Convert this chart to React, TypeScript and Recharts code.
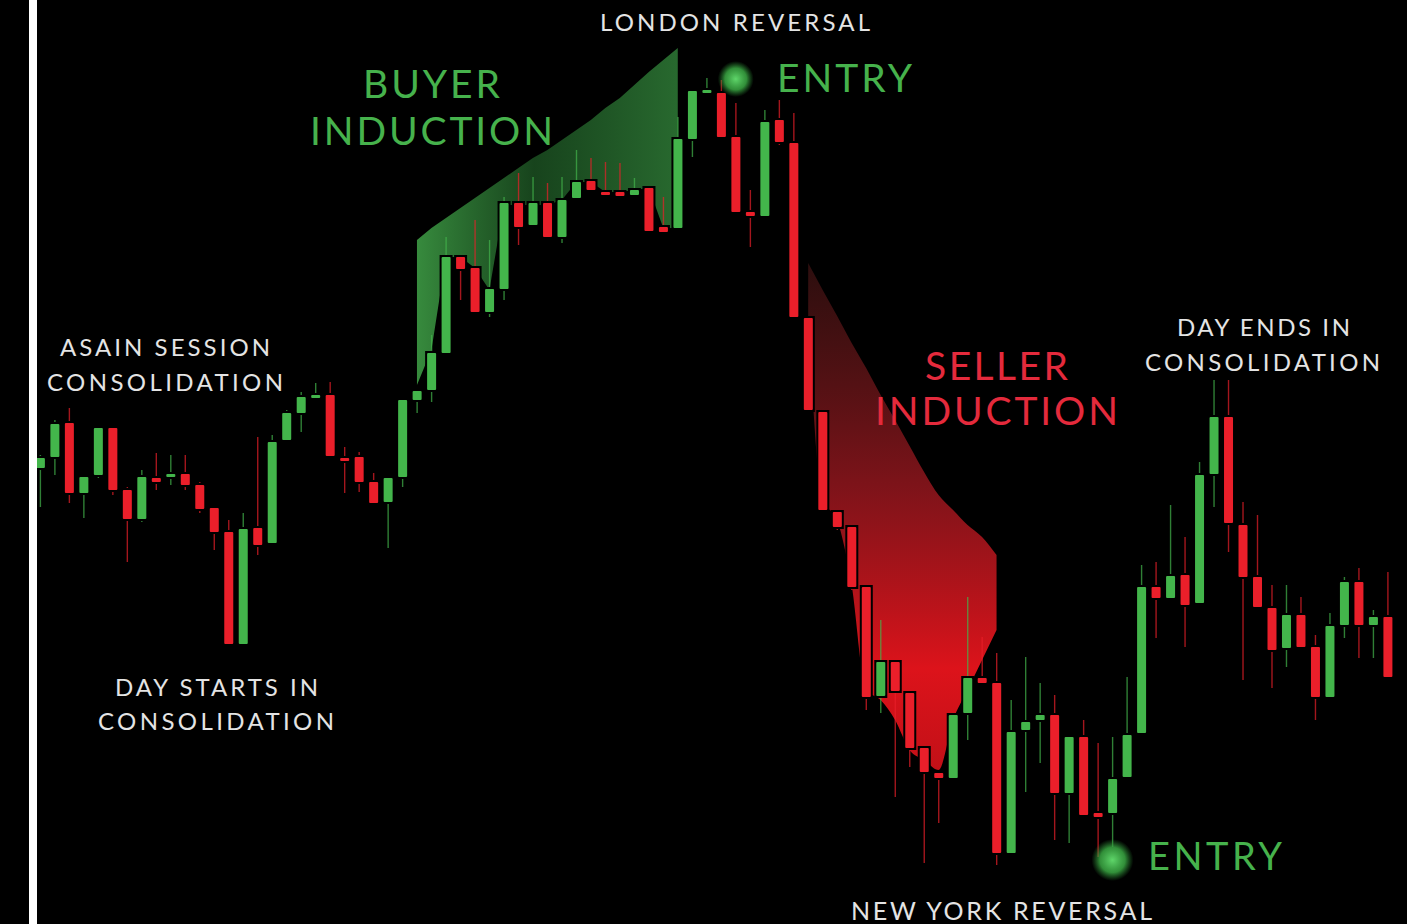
import { ComposedChart, Bar, Area, XAxis, YAxis, ReferenceDot } from "recharts";

// candle prices (arbitrary price units)
const open = [
  456, 467, 501, 431, 449, 496, 434, 405, 446, 447, 450, 439, 416, 392, 280, 396, 381, 484, 511, 527,
  529, 466, 467, 442, 422, 447, 524, 534, 571, 667, 656, 612, 635, 721, 699, 721, 687, 726, 743, 732,
  732, 729, 736, 697, 696, 785, 832, 831, 787, 712, 708, 804, 781, 606, 512, 412, 397, 337, 228, 262,
  231, 176, 151, 146, 211, 246, 241, 71, 194, 204, 209, 131, 187, 111, 111, 147, 191, 337, 326, 349,
  321, 450, 507, 399, 347, 316, 276, 309, 277, 227, 299, 342, 299, 307,
];
const close = [
  466, 500, 431, 447, 496, 434, 405, 447, 442, 450, 439, 415, 392, 280, 395, 379, 482, 511, 527, 529,
  468, 464, 442, 421, 446, 524, 533, 571, 667, 655, 612, 635, 721, 697, 721, 687, 724, 742, 734, 729,
  728, 734, 693, 692, 785, 833, 834, 787, 712, 708, 802, 782, 607, 514, 414, 397, 337, 227, 262, 233,
  176, 152, 146, 209, 246, 241, 71, 192, 202, 209, 131, 187, 109, 107, 145, 189, 337, 326, 348, 319,
  449, 507, 401, 347, 317, 274, 309, 277, 227, 298, 342, 299, 307, 247,
];
const high = [
  469, 504, 516, 449, 498, 498, 437, 454, 471, 469, 469, 442, 418, 404, 411, 487, 489, 514, 532, 541,
  542, 477, 472, 451, 448, 526, 535, 589, 687, 669, 704, 684, 727, 751, 747, 741, 747, 774, 766, 762,
  761, 746, 738, 727, 807, 835, 846, 844, 821, 734, 814, 824, 811, 608, 514, 414, 399, 339, 304, 264,
  233, 178, 153, 211, 327, 287, 271, 224, 267, 241, 229, 189, 204, 181, 187, 247, 359, 362, 419, 387,
  462, 544, 544, 422, 409, 339, 339, 327, 289, 311, 347, 356, 314, 352,
];
const low = [
  417, 449, 421, 406, 446, 429, 362, 402, 434, 439, 434, 411, 374, 278, 278, 369, 379, 482, 492, 526,
  466, 431, 432, 419, 376, 437, 511, 522, 569, 624, 610, 607, 624, 679, 697, 685, 681, 724, 732, 727,
  726, 727, 691, 690, 694, 767, 830, 785, 710, 677, 706, 779, 605, 512, 412, 394, 334, 214, 211, 127,
  157, 61, 101, 144, 184, 239, 59, 69, 132, 161, 84, 81, 107, 67, 77, 145, 189, 286, 324, 277,
  319, 417, 372, 244, 315, 236, 257, 275, 204, 225, 286, 266, 266, 245,
];

// shaded "induction" bands
const buyerStart = 26;
const buyerTop = [684, 696, 706, 716, 726, 736, 746, 756, 766, 774, 784, 794, 804, 816, 826, 839, 852, 864, 876];
const buyerBottom = [539, 574, 667, 667, 656, 634, 719, 719, 719, 719, 724, 742, 742, 732, 732, 734, 736, 696, 696];
const sellerStart = 53;
const sellerTop = [661, 634, 608, 581, 556, 529, 504, 478, 452, 429, 414, 399, 387, 369];
const sellerBottom = [606, 424, 404, 339, 234, 224, 204, 174, 164, 154, 204, 234, 264, 294];

const entryIndex = [48, 74];
const entryPrice = [845, 64];

const GREEN = "#43b54b";
const RED = "#ea1f2a";

const data = open.map((o, i) => {
  const b = i - buyerStart;
  const s = i - sellerStart;
  return {
    i,
    open: o,
    close: close[i],
    high: high[i],
    low: low[i],
    buyer: b >= 0 && b < buyerTop.length ? [buyerBottom[b], buyerTop[b]] : null,
    seller: s >= 0 && s < sellerTop.length ? [sellerBottom[s], sellerTop[s]] : null,
  };
});

function Candle(props: any) {
  const { x, y, width, height, payload } = props;
  if (!payload || !height) return null;
  const { open: o, close: c, high: h, low: l } = payload;
  const color = c >= o ? GREEN : RED;
  const k = height / (h - l);
  const top = y + (h - Math.max(o, c)) * k;
  const bh = Math.max((Math.max(o, c) - Math.min(o, c)) * k, 3);
  const cx = x + width / 2;
  return (
    <g>
      <line x1={cx} x2={cx} y1={y} y2={y + height} stroke={color} strokeWidth={1.4} strokeOpacity={0.7} />
      <rect x={x - 2} y={top - 2} width={width + 4} height={bh + 4} fill="#000" />
      <rect x={x} y={top} width={width} height={bh} fill={color} rx={1} />
    </g>
  );
}

function Note({ x, y, w, size, color, children }: any) {
  return (
    <text x={x} y={y} textLength={w} lengthAdjust="spacing" fontSize={size} fill={color}
      fontFamily="Lato, 'Open Sans', sans-serif">
      {children}
    </text>
  );
}

export default function App() {
  const white = "#e4e4e4";
  const green = "#46b24c";
  const red = "#e42a3c";
  return (
    <div style={{ position: "fixed", left: 0, top: 0, width: 1407, height: 924, background: "#000", overflow: "hidden" }}>
      <div style={{ position: "absolute", left: 0, top: 0 }}>
        <ComposedChart width={1407} height={924} data={data} barCategoryGap="20%"
          margin={{ top: 0, right: 12, bottom: 0, left: 33 }}>
          <defs>
            <linearGradient id="buyGrad" x1="0" y1="0" x2="1" y2="0">
              <stop offset="0%" stopColor="#3d9a44" stopOpacity={0.9} />
              <stop offset="45%" stopColor="#1f5a26" stopOpacity={0.75} />
              <stop offset="100%" stopColor="#2f7c37" stopOpacity={0.85} />
            </linearGradient>
            <linearGradient id="sellGrad" x1="0" y1="0" x2="0" y2="1">
              <stop offset="0%" stopColor="#5a1c1c" stopOpacity={0.5} />
              <stop offset="45%" stopColor="#a01820" stopOpacity={0.8} />
              <stop offset="80%" stopColor="#e8141c" stopOpacity={0.95} />
              <stop offset="100%" stopColor="#d8121a" stopOpacity={0.9} />
            </linearGradient>
            <radialGradient id="glow">
              <stop offset="0%" stopColor="#5fd66a" stopOpacity={1} />
              <stop offset="60%" stopColor="#3aa843" stopOpacity={0.85} />
              <stop offset="100%" stopColor="#2a8a33" stopOpacity={0} />
            </radialGradient>
          </defs>
          <XAxis dataKey="i" hide />
          <YAxis hide domain={[0, 924]} />
          <Area dataKey="buyer" type="linear" stroke="none" fill="url(#buyGrad)" fillOpacity={1}
            isAnimationActive={false} dot={false} activeDot={false} />
          <Area dataKey="seller" type="monotone" stroke="none" fill="url(#sellGrad)" fillOpacity={1}
            isAnimationActive={false} dot={false} activeDot={false} />
          <Bar dataKey={(d: any) => [d.low, d.high]} shape={<Candle />} isAnimationActive={false} />
          {entryIndex.map((ix, k) => (
            <ReferenceDot key={ix} x={ix} y={entryPrice[k]} r={k === 0 ? 18 : 21} fill="url(#glow)" stroke="none" />
          ))}
        </ComposedChart>
      </div>
      <div style={{ position: "absolute", left: 29, top: 0, width: 8, height: 924, background: "#fff" }} />
      <svg width={1407} height={924} style={{ position: "absolute", left: 0, top: 0, pointerEvents: "none" }}>
        <Note x={600} y={31} w={270} size={24} color={white}>LONDON REVERSAL</Note>
        <Note x={363} y={98} w={137} size={39} color={green}>BUYER</Note>
        <Note x={310} y={145} w={243} size={39} color={green}>INDUCTION</Note>
        <Note x={777} y={92} w={135} size={39} color={green}>ENTRY</Note>
        <Note x={60} y={356} w={210} size={24} color={white}>ASAIN SESSION</Note>
        <Note x={47} y={391} w={236} size={24} color={white}>CONSOLIDATION</Note>
        <Note x={115} y={696} w={203} size={24} color={white}>DAY STARTS IN</Note>
        <Note x={98} y={730} w={236} size={24} color={white}>CONSOLIDATION</Note>
        <Note x={925} y={380} w={143} size={39} color={red}>SELLER</Note>
        <Note x={875} y={425} w={243} size={39} color={red}>INDUCTION</Note>
        <Note x={1177} y={336} w={173} size={24} color={white}>DAY ENDS IN</Note>
        <Note x={1145} y={371} w={235} size={24} color={white}>CONSOLIDATION</Note>
        <Note x={1148} y={870} w={134} size={38} color={green}>ENTRY</Note>
        <Note x={851} y={920} w={301} size={25} color={white}>NEW YORK REVERSAL</Note>
      </svg>
    </div>
  );
}
